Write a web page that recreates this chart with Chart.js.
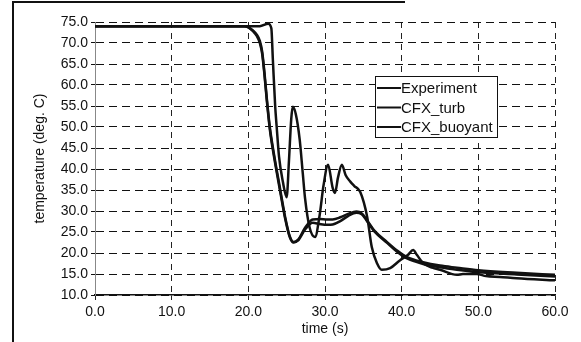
<!DOCTYPE html>
<html>
<head>
<meta charset="utf-8">
<script src="https://cdn.jsdelivr.net/npm/chart.js@4/dist/chart.umd.min.js"></script>
<style>
  html, body { margin: 0; padding: 0; background: #fff; }
  #wrap { width: 581px; height: 342px; position: relative; }
</style>
</head>
<body>
<div id="wrap"><canvas id="temp-chart"></canvas></div>
<script>
// Series values (time in s, temperature in deg. C)
const expTime = [0, 20, 21.5, 22.6, 23.0, 23.2, 23.5, 23.7, 24.0, 24.5, 25.0, 25.3, 25.6, 25.8, 26.2, 26.7, 27.1, 27.4, 28.0, 28.7, 29.3, 29.8, 30.4, 31.0, 31.3, 31.7, 32.2, 32.7, 33.3, 33.8, 34.6, 35.5, 36.1, 36.8, 37.4, 38.5, 39.8, 40.8, 41.5, 42.0, 42.8, 44.0, 45.0, 47.2, 48.0, 49.8, 51.0, 52.8, 55.0, 60.0];
const expTemp = [74, 74, 74, 74.6, 73.5, 66, 55, 50, 43, 37, 33.3, 42, 52, 54.8, 53, 47, 39, 33, 26, 23.8, 29, 36, 41, 35.5, 34.3, 38, 41, 38.5, 37, 36, 34.5, 28.6, 21.4, 17.5, 16, 16.4, 18.3, 19.5, 20.7, 19.5, 17.6, 16.5, 16, 14.8, 15, 15, 14.5, 14.3, 14, 13.5];

const turbTime = [0, 19.5, 20.0, 20.6, 21.1, 21.5, 21.8, 22.1, 22.4, 22.8, 23.3, 24.1, 24.8, 25.4, 25.9, 26.5, 27.4, 28.4, 29.3, 30.3, 31.0, 32.0, 33.0, 34.1, 34.8, 35.4, 36.5, 38.1, 39.4, 40.7, 42.8, 45.0, 47.2, 50.0, 55.0, 60.0];
const turbTemp = [74, 74, 73.8, 73, 72, 70.5, 68, 63, 57, 50, 44, 35.7, 28.6, 24, 22.6, 23.2, 26, 28, 28.1, 28, 28, 28.5, 29.3, 29.9, 29.4, 28, 25.2, 22.6, 20.6, 19, 17.8, 17, 16.5, 15.9, 15.3, 14.8];

const buoyTime = [0, 19.5, 20.0, 20.6, 21.1, 21.5, 21.8, 22.1, 22.4, 22.8, 23.3, 24.1, 24.8, 25.4, 25.9, 26.5, 27.4, 28.4, 29.3, 30.3, 31.0, 32.0, 33.0, 34.1, 34.8, 35.4, 36.5, 38.1, 39.4, 40.7, 42.8, 45.0, 47.2, 50.0, 55.0, 60.0];
const buoyTemp = [74, 74, 73.7, 72.8, 71.7, 70, 67.5, 62.5, 56.5, 49.5, 43.5, 35.2, 28.2, 23.8, 22.5, 23, 25.6, 27.2, 26.9, 26.7, 26.8, 27.6, 28.8, 29.6, 29.2, 27.8, 25, 22.4, 20.3, 18.7, 17.4, 16.6, 16, 15.4, 14.9, 14.4];

const seriesLabels = ["Experiment", "CFX_turb", "CFX_buoyant"];

// Tick labels
const xTicks = [0, 10, 20, 30, 40, 50, 60];
const yTicks = [10, 15, 20, 25, 30, 35, 40, 45, 50, 55, 60, 65, 70, 75];

const FONT = "'Liberation Sans', Arial, sans-serif";

function toPoints(xs, ys) {
    return xs.map((x, i) => ({ x: x, y: ys[i] }));
}

// Outer frame of the scanned figure + boxed legend
const framePlugin = {
    id: "frame",
    afterDraw(chart) {
        const ctx = chart.ctx;
        ctx.save();
        ctx.strokeStyle = "#111";
        ctx.lineWidth = 2;
        ctx.beginPath();
        ctx.moveTo(13, 342);
        ctx.lineTo(13, 2);
        ctx.lineTo(405, 2);
        ctx.stroke();

        // legend box
        const bx = 375, by = 76, bw = 122, bh = 61;
        ctx.fillStyle = "#fff";
        ctx.fillRect(bx, by, bw, bh);
        ctx.lineWidth = 1;
        ctx.strokeRect(bx + 0.5, by + 0.5, bw, bh);
        ctx.font = "15px " + FONT;
        ctx.textBaseline = "middle";
        ctx.fillStyle = "#111";
        chart.data.datasets.forEach((ds, i) => {
            const y = by + 12 + i * 19.5;
            ctx.lineWidth = 2;
            ctx.beginPath();
            ctx.moveTo(bx + 2, y);
            ctx.lineTo(bx + 26, y);
            ctx.stroke();
            ctx.fillText(ds.label, bx + 26, y + 1);
        });
        ctx.restore();
    }
};

const lineStyle = {
    borderColor: "#111",
    backgroundColor: "#111",
    borderWidth: 2.5,
    pointRadius: 0,
    fill: false,
    cubicInterpolationMode: "monotone"
};

new Chart("temp-chart", {
    type: "line",
    data: {
        datasets: [
            Object.assign({ label: seriesLabels[0], data: toPoints(expTime, expTemp) }, lineStyle),
            Object.assign({ label: seriesLabels[1], data: toPoints(turbTime, turbTemp) }, lineStyle),
            Object.assign({ label: seriesLabels[2], data: toPoints(buoyTime, buoyTemp) }, lineStyle)
        ]
    },
    options: {
        responsive: true,
        maintainAspectRatio: false,
        animation: false,
        layout: { padding: { left: 0, top: 22, right: 26, bottom: 0 } },
        plugins: {
            legend: { display: false },
            tooltip: { enabled: false }
        },
        scales: {
            x: {
                type: "linear",
                min: 0,
                max: 60,
                afterBuildTicks: (scale) => { scale.ticks = xTicks.map(v => ({ value: v })); },
                afterFit: (scale) => { scale.height = 47; },
                ticks: {
                    callback: (v) => v.toFixed(1),
                    color: "#111",
                    maxRotation: 0,
                    padding: 4,
                    font: { family: FONT, size: 14 }
                },
                grid: { color: "#222", lineWidth: 1, tickLength: 5 },
                border: { display: true, color: "#111", width: 1.5, dash: [6, 5] },
                title: {
                    display: true,
                    text: "time (s)",
                    color: "#111",
                    padding: { top: 0, bottom: 4 },
                    font: { family: FONT, size: 14 }
                }
            },
            y: {
                min: 10,
                max: 75,
                afterBuildTicks: (scale) => { scale.ticks = yTicks.map(v => ({ value: v })); },
                afterFit: (scale) => { scale.width = 95; },
                ticks: {
                    callback: (v) => v.toFixed(1),
                    color: "#111",
                    padding: 3,
                    font: { family: FONT, size: 14 }
                },
                grid: { color: "#111", lineWidth: 1, tickLength: 4 },
                border: { display: true, color: "#888", width: 1, dash: [8, 5] },
                title: {
                    display: true,
                    text: "temperature (deg. C)",
                    color: "#111",
                    padding: { top: 32, bottom: 0 },
                    font: { family: FONT, size: 14 }
                }
            }
        }
    },
    plugins: [framePlugin]
});
</script>
</body>
</html>
